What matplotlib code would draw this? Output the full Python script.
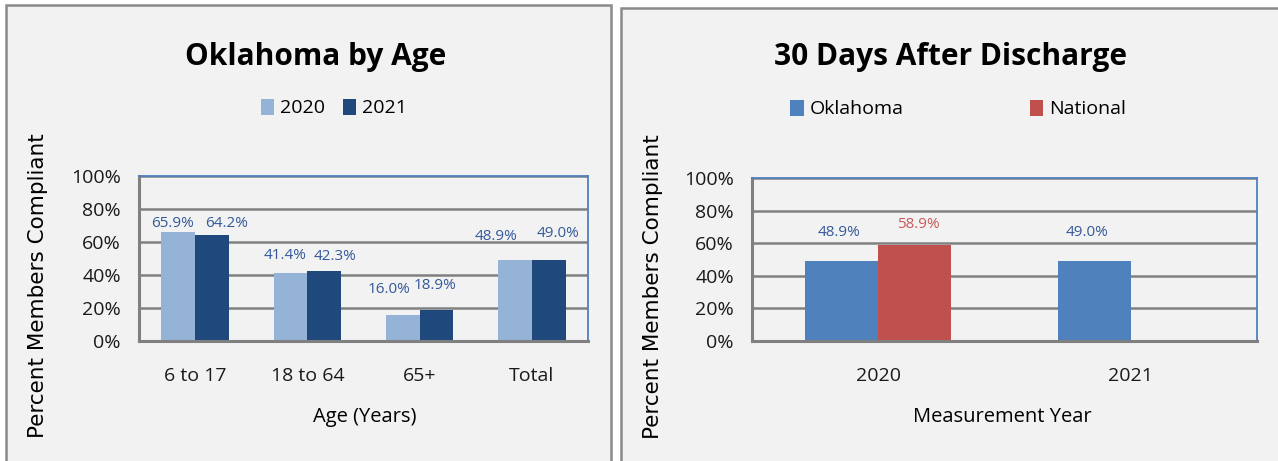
import numpy as np
import matplotlib
matplotlib.use("Agg")
from matplotlib import pyplot as plt
from matplotlib.patches import Rectangle
from matplotlib.ticker import PercentFormatter

plt.rcParams['font.family'] = ['Open Sans', 'DejaVu Sans']

# left chart: Oklahoma by Age
age_groups = ['6 to 17', '18 to 64', '65+', 'Total']
age_2020 = [65.9, 41.4, 16.0, 48.9]
age_2021 = [64.2, 42.3, 18.9, 49.0]

# right chart: 30 days after discharge
years = ['2020', '2021']
oklahoma = [48.9, 49.0]
national = [58.9, np.nan]

W, H = 1278, 461
fig = plt.figure(figsize=(W / 100, H / 100), dpi=100)
fig.patch.set_facecolor('white')

def box(x0, y0, x1, y1):
    # pixel box (from top-left) -> figure fraction
    return [x0 / W, 1 - y1 / H, (x1 - x0) / W, (y1 - y0) / H]

def fx(x):
    return x / W

def fy(y):
    return 1 - y / H

panel_bg = '#f2f2f2'
for x0, y0, x1, y1 in [(6, 5, 611, 470), (621, 8, 1290, 470)]:
    fig.patches.append(Rectangle((fx(x0), fy(y1)), fx(x1) - fx(x0), fy(y0) - fy(y1),
                                 transform=fig.transFigure, facecolor=panel_bg,
                                 edgecolor='#8a8a8a', lw=1.8, zorder=-5))

grid_c = '#808080'
lab_blue = '#34599a'

def style_axes(ax):
    ax.set_facecolor(panel_bg)
    ax.set_ylim(0, 100)
    ax.set_yticks([0, 20, 40, 60, 80, 100])
    ax.yaxis.set_major_formatter(PercentFormatter(decimals=0))
    ax.grid(axis='y', color=grid_c, lw=1.8)
    ax.set_axisbelow(True)
    for s in ['top', 'right']:
        ax.spines[s].set_color('#4f81bd')
        ax.spines[s].set_linewidth(1.3)
    for s in ['left', 'bottom']:
        ax.spines[s].set_color(grid_c)
        ax.spines[s].set_linewidth(2.2)
    ax.tick_params(axis='both', length=0, labelsize=14, colors='#1a1a1a')
    ax.tick_params(axis='y', pad=13)
    ax.tick_params(axis='x', pad=19)

# ---- left ----
ax1 = fig.add_axes(box(139, 176, 588, 341))
style_axes(ax1)
x = np.arange(len(age_groups))
bw = 0.3
b1 = ax1.bar(x - bw / 2, age_2020, bw, color='#95b3d7', zorder=2, label='2020')
b2 = ax1.bar(x + bw / 2, age_2021, bw, color='#1f497d', zorder=2, label='2021')
ax1.set_xlim(-0.5, len(age_groups) - 0.5)
ax1.set_xticks(x)
ax1.set_xticklabels(age_groups)

# label offsets (pixels) as placed in the original
off_2020 = [(-6, 9), (-5, 17), (-14, 25), (-19, 24)]
off_2021 = [(15, 12), (11, 15), (-1, 24), (9, 27)]
for bars, vals, offs in [(b1, age_2020, off_2020), (b2, age_2021, off_2021)]:
    for r, v, (dx, dy) in zip(bars, vals, offs):
        ax1.annotate(f'{v:.1f}%', (r.get_x() + r.get_width() / 2, v),
                     xytext=(dx, dy), textcoords='offset pixels',
                     ha='center', va='center', fontsize=11, color=lab_blue)

fig.text(fx(316), fy(57), 'Oklahoma by Age', ha='center', va='center',
         fontsize=21.5, fontweight='bold')
fig.legend(handles=[b1, b2], loc='center', bbox_to_anchor=(fx(334), fy(108)),
           ncol=2, frameon=False, fontsize=14, handlelength=0.7, handleheight=0.9,
           handletextpad=0.3, columnspacing=0.9)
fig.text(fx(38), fy(286), 'Percent Members Compliant', rotation=90, ha='center',
         va='center', fontsize=15.5, family='DejaVu Sans')
fig.text(fx(365), fy(417), 'Age (Years)', ha='center', va='center', fontsize=14.5)

# ---- right ----
ax2 = fig.add_axes(box(752, 178, 1257, 341))
style_axes(ax2)
x2 = np.arange(len(years))
bw2 = 0.29
c1 = ax2.bar(x2 - bw2 / 2, oklahoma, bw2, color='#4f81bd', zorder=2, label='Oklahoma')
c2 = ax2.bar(x2 + bw2 / 2, national, bw2, color='#c0504d', zorder=2, label='National')
ax2.set_xlim(-0.5, len(years) - 0.5)
ax2.set_xticks(x2)
ax2.set_xticklabels(years)

off_ok = [(-3, 29), (-7, 29)]
off_nat = [(4, 20), (0, 20)]
for bars, vals, offs, col in [(c1, oklahoma, off_ok, lab_blue), (c2, national, off_nat, '#c9585a')]:
    for r, v, (dx, dy) in zip(bars, vals, offs):
        if np.isnan(v):
            continue
        ax2.annotate(f'{v:.1f}%', (r.get_x() + r.get_width() / 2, v),
                     xytext=(dx, dy), textcoords='offset pixels',
                     ha='center', va='center', fontsize=11, color=col)

fig.text(fx(951), fy(57), '30 Days After Discharge', ha='center', va='center',
         fontsize=21.5, fontweight='bold')
fig.legend(handles=[c1, c2], loc='center', bbox_to_anchor=(fx(958), fy(109)),
           ncol=2, frameon=False, fontsize=14, handlelength=0.7, handleheight=0.9,
           handletextpad=0.3, columnspacing=6.5)
fig.text(fx(653), fy(287), 'Percent Members Compliant', rotation=90, ha='center',
         va='center', fontsize=15.5, family='DejaVu Sans')
fig.text(fx(1002), fy(417), 'Measurement Year', ha='center', va='center', fontsize=14.5)

fig.savefig('out.png', dpi=100, facecolor=fig.get_facecolor())
